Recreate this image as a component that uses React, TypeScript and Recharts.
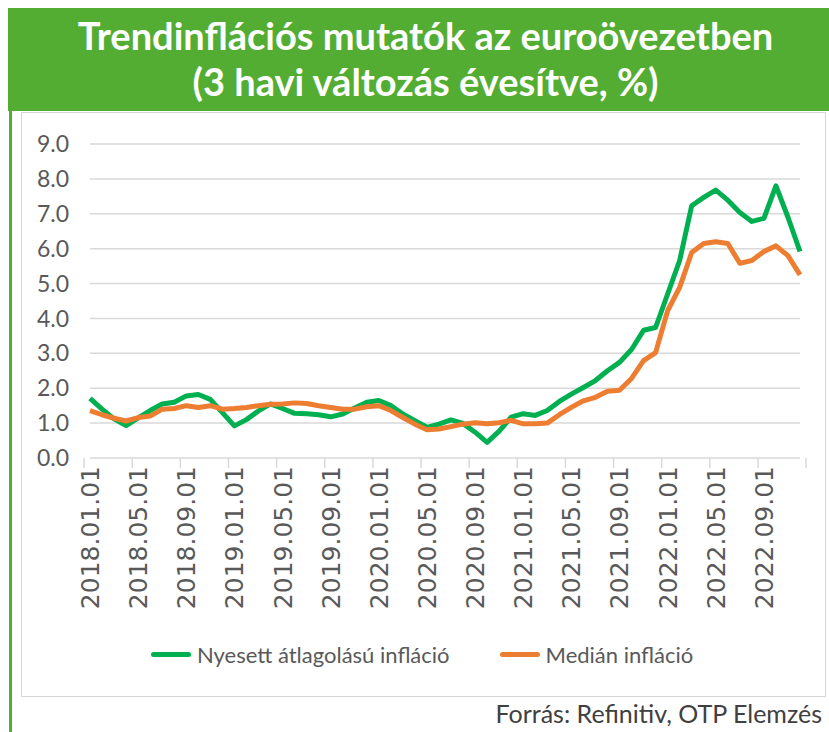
import React from "react";
import {
  LineChart,
  Line,
  XAxis,
  YAxis,
  CartesianGrid,
  Legend,
} from "recharts";

// months shown on the x axis (monthly data, 2018.01 - 2022.12)
const YEARS = ["2018", "2019", "2020", "2021", "2022"];
const MONTHS = ["01", "02", "03", "04", "05", "06", "07", "08", "09", "10", "11", "12"];
const DATES: string[] = [];
YEARS.forEach((y) => MONTHS.forEach((m) => DATES.push(`${y}.${m}.01`)));

// Nyesett átlagolású infláció
const trimmedMean = [
  1.71, 1.4, 1.12, 0.93, 1.15, 1.36, 1.55, 1.6, 1.78, 1.82, 1.68, 1.3,
  0.92, 1.1, 1.35, 1.55, 1.42, 1.28, 1.27, 1.24, 1.18, 1.26, 1.43, 1.6,
  1.65, 1.5, 1.26, 1.07, 0.88, 0.97, 1.09, 0.99, 0.74, 0.45, 0.77, 1.17,
  1.27, 1.22, 1.36, 1.62, 1.83, 2.02, 2.22, 2.5, 2.74, 3.11, 3.66, 3.74,
  4.7, 5.66, 7.23, 7.47, 7.68, 7.39, 7.04, 6.78, 6.87, 7.8, 6.9, 5.92,
];

// Medián infláció
const median = [
  1.36, 1.24, 1.14, 1.06, 1.16, 1.2, 1.4, 1.42, 1.5, 1.45, 1.5, 1.4,
  1.42, 1.45, 1.5, 1.54, 1.55, 1.58, 1.56, 1.5, 1.45, 1.4, 1.4, 1.47,
  1.5, 1.36, 1.16, 0.97, 0.81, 0.83, 0.9, 0.97, 1.01, 0.98, 1.01, 1.08,
  0.98, 0.98, 1.0, 1.24, 1.45, 1.64, 1.74, 1.91, 1.94, 2.28, 2.79, 3.02,
  4.22, 4.89, 5.89, 6.15, 6.2, 6.15, 5.58, 5.66, 5.92, 6.08, 5.8, 5.25,
];

const SERIES_NAMES = ["Nyesett átlagolású infláció", "Medián infláció"];
const Y_TICKS = [0, 1, 2, 3, 4, 5, 6, 7, 8, 9];
// labelled months: every 4th one, plus the last for the closing tick mark
const X_TICKS = [...DATES.filter((_, i) => i % 4 === 0), DATES[DATES.length - 1]];

const data = DATES.map((date, i) => ({
  date,
  trimmed: trimmedMean[i],
  median: median[i],
}));

const CHART_W = 805;
const CHART_H = 585;
const MARGIN = { top: 31, right: 27, left: 8, bottom: 80 };
const Y_W = 60;
const BAND = (CHART_W - MARGIN.left - MARGIN.right - Y_W) / DATES.length;

const GRID = "#d9d9d9";
const TEXT = "#595959";

function XTick(props: any) {
  const { x, y, payload } = props;
  const half = BAND / 2;
  if (payload.value === DATES[DATES.length - 1]) {
    return (
      <line x1={x + half} x2={x + half} y1={y} y2={y + 10} stroke={GRID} strokeWidth={1.5} />
    );
  }
  return (
    <g>
      <line x1={x - half} x2={x - half} y1={y} y2={y + 10} stroke={GRID} strokeWidth={1.5} />
      <text
        transform={`translate(${x + 9},${y + 8}) rotate(-90)`}
        textAnchor="end"
        fontFamily="DejaVu Sans"
        fontSize={25}
        fill={TEXT}
      >
        {payload.value}
      </text>
    </g>
  );
}

function LegendBox(props: any) {
  const items = [...(props.payload || [])].sort(
    (a: any, b: any) => SERIES_NAMES.indexOf(a.value) - SERIES_NAMES.indexOf(b.value)
  );
  return (
    <div style={{ display: "flex", gap: 50, fontFamily: "Lato", fontSize: 22, color: TEXT }}>
      {items.map((p: any) => (
        <div key={p.value} style={{ display: "flex", alignItems: "center" }}>
          <span
            style={{
              display: "inline-block",
              width: 40,
              height: 5,
              borderRadius: 3,
              background: p.color,
              marginRight: 6,
            }}
          />
          <span>{p.value}</span>
        </div>
      ))}
    </div>
  );
}

export default function App() {
  return (
    <div
      style={{
        position: "absolute",
        left: 0,
        top: 0,
        width: 829,
        height: 732,
        background: "#fff",
        overflow: "hidden",
      }}
    >
      {/* Header */}
      <div
        style={{
          position: "absolute",
          left: 8,
          top: 8,
          width: 821,
          height: 103,
          background: "#53ad33",
          color: "#fff",
          fontFamily: "Lato",
          fontWeight: 700,
          fontSize: 38,
          lineHeight: "46px",
          textAlign: "center",
          paddingTop: 4,
          boxSizing: "border-box",
          paddingLeft: 14,
        }}
      >
        <div>Trendinflációs mutatók az euroövezetben</div>
        <div>(3 havi változás évesítve, %)</div>
      </div>

      {/* left green rule */}
      <div
        style={{
          position: "absolute",
          left: 9,
          top: 8,
          width: 3,
          height: 724,
          background: "#53ad33",
        }}
      />

      {/* Chart box */}
      <div
        style={{
          position: "absolute",
          left: 21,
          top: 112,
          width: CHART_W,
          height: CHART_H,
          boxSizing: "border-box",
          border: "1px solid #d6d6d6",
          background: "#fff",
        }}
      >
        <LineChart width={CHART_W} height={CHART_H} data={data} margin={MARGIN}>
          <CartesianGrid vertical={false} stroke={GRID} strokeWidth={1.5} />
          <XAxis
            dataKey="date"
            ticks={X_TICKS}
            interval={0}
            axisLine={false}
            tickLine={false}
            tickSize={0}
            tickMargin={0}
            height={160}
            tick={<XTick />}
          />
          <YAxis
            width={Y_W}
            domain={[0, 9]}
            ticks={Y_TICKS}
            axisLine={false}
            tickLine={false}
            tickSize={0}
            tickMargin={21}
            tickFormatter={(v: number) => v.toFixed(1)}
            tick={{ fill: TEXT, fontSize: 23, fontFamily: "Lato" }}
          />
          <Legend
            verticalAlign="middle"
            align="center"
            layout="horizontal"
            wrapperStyle={{ top: 528, left: 129, width: "auto" }}
            content={<LegendBox />}
          />
          <Line
            type="linear"
            dataKey="trimmed"
            name={SERIES_NAMES[0]}
            stroke="#00b050"
            strokeWidth={5}
            dot={false}
            strokeLinejoin="round"
            isAnimationActive={false}
          />
          <Line
            type="linear"
            dataKey="median"
            name={SERIES_NAMES[1]}
            stroke="#ed7d31"
            strokeWidth={5}
            dot={false}
            strokeLinejoin="round"
            isAnimationActive={false}
          />
        </LineChart>
      </div>

      {/* Source */}
      <div
        style={{
          position: "absolute",
          right: 7,
          top: 698,
          fontFamily: "Lato",
          fontSize: 25,
          color: "#404040",
        }}
      >
        Forrás: Refinitiv, OTP Elemzés
      </div>
    </div>
  );
}
